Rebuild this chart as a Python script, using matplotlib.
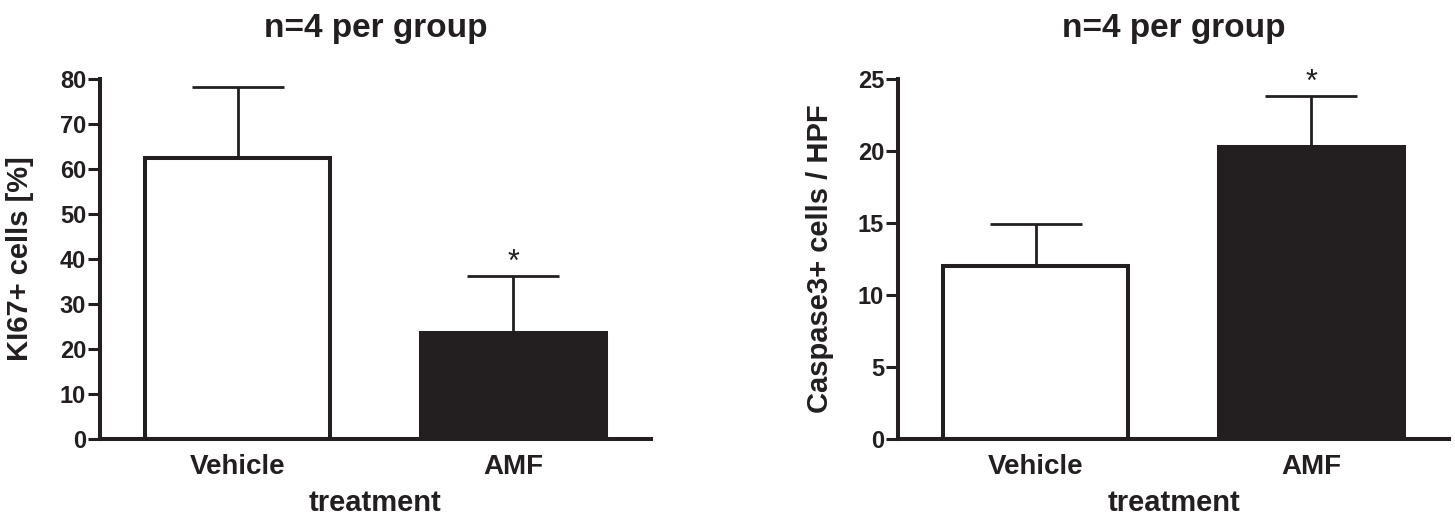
import matplotlib
matplotlib.use('Agg')
import numpy as np
from matplotlib import pyplot as plt

# data (mean and SEM, upper bar only)
groups = ['Vehicle', 'AMF']
ki67_mean = [62.5, 23.5]
ki67_sem = [15.8, 12.8]
casp_mean = [12.0, 20.3]
casp_sem = [2.9, 3.5]
significant = [False, True]

INK = '#231f20'
plt.rcParams['font.family'] = ['Liberation Sans', 'DejaVu Sans']
plt.rcParams['font.weight'] = 'bold'


def drawPanel(ax, means, sems, ymax, ystep, ylabel, label_x):
    x = np.arange(len(groups))
    fills = ['white', INK]
    ax.bar(x, means, width=0.67, color=fills, edgecolor=INK, linewidth=2.9, zorder=2)
    ax.errorbar(x, means, yerr=[np.zeros(len(sems)), sems], fmt='none',
                ecolor=INK, elinewidth=2.0, capsize=33, capthick=2.0, zorder=3)
    for xi, m, s, sig in zip(x, means, sems, significant):
        if sig:
            ax.text(xi, m + s - ymax * 0.005, '*', ha='center', va='bottom',
                    fontsize=22, color=INK, fontweight='normal')

    ax.set_xlim(-0.5, 1.5)
    ax.set_ylim(0, ymax)
    ax.set_yticks(np.arange(0, ymax + ystep / 2, ystep))
    ax.set_xticks(x)
    ax.set_xticklabels(groups)

    for side in ['top', 'right']:
        ax.spines[side].set_visible(False)
    for side in ['left', 'bottom']:
        ax.spines[side].set_linewidth(2.9)
        ax.spines[side].set_color(INK)
        ax.spines[side].set_zorder(4)
    ax.spines['left'].set_bounds(0, ymax)

    ax.tick_params(axis='y', length=9, width=2.2, color=INK, labelsize=17,
                   labelcolor=INK, pad=1)
    ax.tick_params(axis='x', length=0, labelsize=20, labelcolor=INK, pad=11)
    ax.set_ylabel(ylabel, fontsize=21, color=INK, fontweight='bold')
    ax.yaxis.set_label_coords(label_x, 0.5)
    ax.set_xlabel('treatment', fontsize=21, color=INK, fontweight='bold', labelpad=6)
    ax.set_title('n=4 per group', fontsize=24, color=INK, fontweight='bold', pad=30)


fig = plt.figure(figsize=(14.55, 5.14), dpi=100)
ax1 = fig.add_axes([0.0687, 0.1459, 0.3787, 0.7004])
ax2 = fig.add_axes([0.6172, 0.1459, 0.3787, 0.7004])

drawPanel(ax1, ki67_mean, ki67_sem, 80, 10, 'KI67+ cells [%]', -0.120)
drawPanel(ax2, casp_mean, casp_sem, 25, 5, 'Caspase3+ cells / HPF', -0.117)

fig.savefig('out.png', dpi=100)
